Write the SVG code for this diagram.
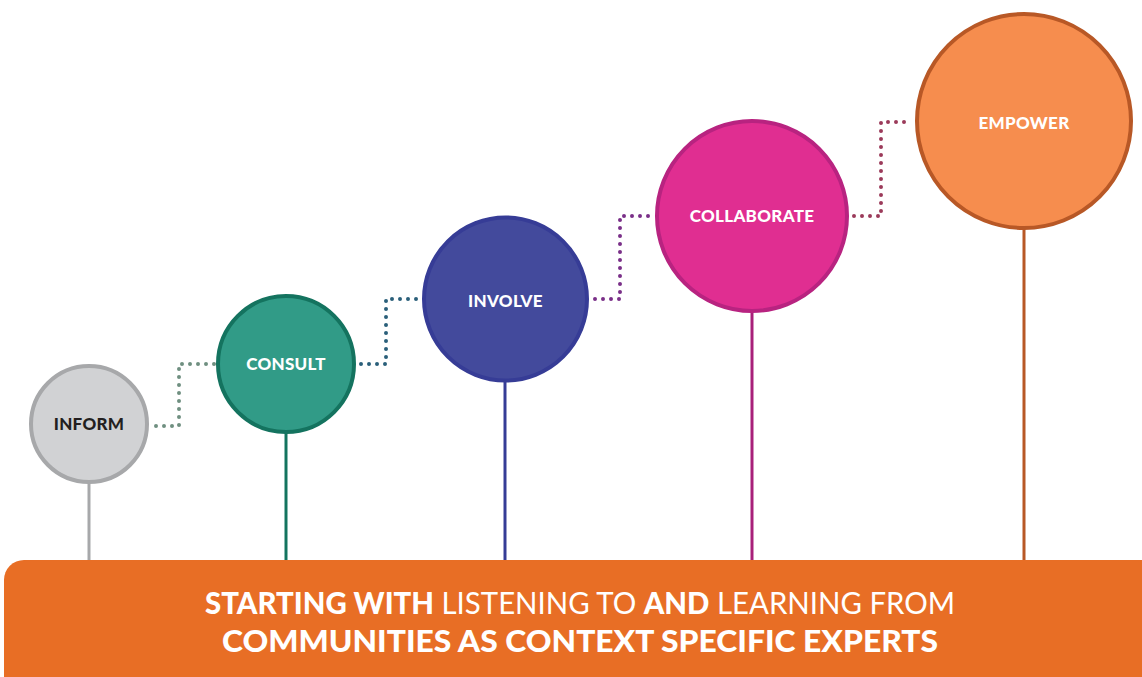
<svg xmlns="http://www.w3.org/2000/svg" width="1142" height="677" viewBox="0 0 1142 677">
<style>
.lbl{font-family:Lato,"Open Sans",sans-serif;font-weight:900;font-size:17px;text-anchor:middle;fill:#fff;letter-spacing:0.3px}
.dot{fill:none;stroke-width:4;stroke-linecap:round;stroke-dasharray:0 8}
.stem{stroke-width:3;fill:none}
.ban{font-family:Lato,"Open Sans",sans-serif;font-size:30px;fill:#fff;text-anchor:middle}
.b{font-weight:900}
.r{font-weight:400}
</style>
<rect width="1142" height="677" fill="#fff"/>
<g id="connectors">
<line class="stem" x1="89" y1="483" x2="89" y2="562" stroke="#a7a8aa"/>
<line class="stem" x1="286" y1="433" x2="286" y2="562" stroke="#13745f"/>
<line class="stem" x1="505" y1="381" x2="505" y2="562" stroke="#363c96"/>
<line class="stem" x1="752" y1="312" x2="752" y2="562" stroke="#a8207a"/>
<line class="stem" x1="1024" y1="229" x2="1024" y2="562" stroke="#b85826"/>
<path class="dot" d="M156 426 H179 V364 H215" stroke="#6f8f80"/>
<path class="dot" d="M361 364 H386 V299 H421" stroke="#2a5f7a"/>
<path class="dot" d="M595 299 H620 V216 H654" stroke="#7a2f88"/>
<path class="dot" d="M854 216 H881 V122 H912" stroke="#9b3a5a"/>
</g>
<g id="inform"><circle cx="89" cy="424" r="58" fill="#d1d2d4" stroke="#a7a8aa" stroke-width="4"/><text class="lbl" x="89" y="430" style="fill:#231f20">INFORM</text></g>
<g id="consult"><circle cx="286" cy="364" r="68" fill="#319b87" stroke="#14735f" stroke-width="4"/><text class="lbl" x="286" y="370">CONSULT</text></g>
<g id="involve"><circle cx="505.5" cy="299" r="81.5" fill="#434a9c" stroke="#363c96" stroke-width="4"/><text class="lbl" x="505.5" y="307">INVOLVE</text></g>
<g id="collaborate"><circle cx="752" cy="216" r="95" fill="#e02e91" stroke="#b82380" stroke-width="4"/><text class="lbl" x="752" y="222">COLLABORATE</text></g>
<g id="empower"><circle cx="1024" cy="121" r="107" fill="#f68d4e" stroke="#b85826" stroke-width="4"/><text class="lbl" x="1024" y="129">EMPOWER</text></g>
<g id="banner">
<rect x="4" y="560" width="1160" height="140" rx="20" fill="#e86e25"/>
<text class="ban" x="580" y="614" textLength="750" lengthAdjust="spacingAndGlyphs"><tspan class="b">STARTING WITH</tspan><tspan class="r"> LISTENING TO </tspan><tspan class="b">AND</tspan><tspan class="r"> LEARNING FROM</tspan></text>
<text class="ban b" x="580" y="652" textLength="716" lengthAdjust="spacingAndGlyphs">COMMUNITIES AS CONTEXT SPECIFIC EXPERTS</text>
</g>
</svg>
